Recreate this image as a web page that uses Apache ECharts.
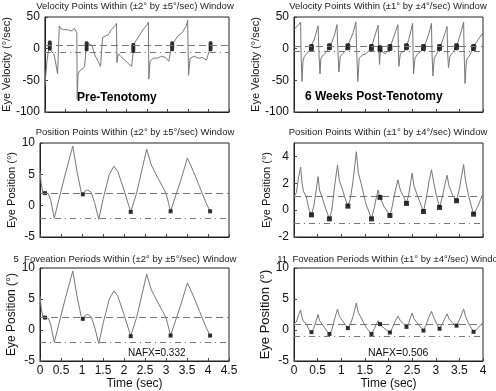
<!DOCTYPE html>
<html><head><meta charset="utf-8">
<script src="https://cdn.jsdelivr.net/npm/echarts@6/dist/echarts.min.js"></script>
<style>html,body{margin:0;padding:0;background:#fff}#c{width:496px;height:391px}</style>
</head><body><div id="c"></div>
<script>
// ---------- Pre-tenotomy (left column) ----------
const preVelT = [0.00,0.02,0.05,0.08,0.10,0.12,0.14,0.17,0.22,0.27,0.31,0.33,0.35,0.38,0.45,0.55,0.65,0.72,0.76,0.78,0.79,0.81,0.85,0.92,0.97,1.00,1.02,1.06,1.10,1.15,1.22,1.30,1.36,1.39,1.41,1.45,1.55,1.62,1.70,1.75,1.76,1.79,1.85,1.95,2.05,2.12,2.15,2.17,2.20,2.30,2.40,2.50,2.53,2.54,2.57,2.65,2.75,2.85,2.95,3.03,3.07,3.11,3.15,3.25,3.35,3.45,3.49,3.51,3.55,3.65,3.75,3.85,3.95,4.01,4.05,4.07];
const preVelV = [-58,-55,-20,-5,3,6,2,-5,-8,-25,-40,-38,36,32,30,30,28,32,30,25,-80,-40,-35,-32,-28,-5,4,8,10,5,-10,-20,-28,-30,18,20,22,30,35,40,-22,-8,-12,-18,-24,-28,-10,2,10,20,30,38,42,-48,-20,-15,-15,-12,-14,-20,-5,5,10,20,25,35,45,-42,-15,-12,-15,-14,-18,-5,5,6];
const prePosT = [0.00,0.03,0.07,0.12,0.20,0.25,0.34,0.45,0.60,0.78,0.88,0.98,1.02,1.08,1.14,1.22,1.30,1.40,1.50,1.65,1.76,1.85,2.00,2.16,2.30,2.54,2.65,2.80,2.92,3.00,3.11,3.25,3.35,3.51,3.65,3.80,3.95,4.05];
const prePosV = [5.5,3.5,2.0,2.0,1.9,1.0,-2.0,1.0,5.0,9.5,5.5,2.2,1.8,2.4,2.5,2.1,0.5,-2.2,1.0,5.0,6.3,5.5,2.5,-1.0,2.0,9.0,6.5,4.5,3.0,2.0,-0.9,2.0,4.0,7.6,5.5,3.0,0.5,-0.9];
const preFovT = [0.12,1.02,2.16,3.11,4.05];
const preFovPos = [2.0,1.8,-1.0,-0.9,-0.9];
const preFovVel = [5,4,1,4,4];
const preWindow = [2,-2];
const preVelWindow = [5,-5];

// ---------- 6 weeks post-tenotomy (right column) ----------
const postVelT = [0.00,0.04,0.10,0.14,0.15,0.17,0.19,0.22,0.27,0.32,0.35,0.38,0.43,0.48,0.51,0.53,0.55,0.57,0.62,0.68,0.73,0.75,0.80,0.86,0.91,0.93,0.95,0.98,1.03,1.09,1.12,1.18,1.25,1.31,1.33,1.35,1.38,1.45,1.52,1.58,1.62,1.67,1.73,1.78,1.80,1.81,1.83,1.87,1.93,1.98,2.03,2.08,2.14,2.20,2.21,2.22,2.25,2.32,2.38,2.43,2.48,2.51,2.52,2.53,2.56,2.62,2.69,2.74,2.80,2.86,2.91,2.92,2.94,2.97,3.02,3.08,3.14,3.20,3.24,3.25,3.27,3.30,3.36,3.44,3.50,3.55,3.59,3.60,3.62,3.65,3.72,3.80,3.86,3.93,4.00];
const postVelV = [30,32,38,42,-10,-52,-20,-12,-8,-3,2,5,15,28,36,-10,-40,-15,-10,-6,0,3,10,22,38,-5,-37,-12,-8,-3,3,12,25,42,-10,-52,-15,-10,-8,-4,2,10,25,37,-8,-25,0,-5,-8,-4,2,12,25,38,-5,-28,-8,-4,3,15,30,40,-5,-40,-15,-8,-4,2,12,25,40,-5,-43,-15,-8,2,12,25,35,-5,-30,-12,-6,3,18,30,42,-5,-55,-18,-10,2,10,18,25];
const postPosT = [0.00,0.05,0.10,0.14,0.17,0.20,0.26,0.32,0.37,0.42,0.47,0.51,0.54,0.60,0.68,0.75,0.80,0.86,0.92,0.96,1.02,1.08,1.14,1.19,1.25,1.32,1.36,1.42,1.52,1.64,1.70,1.74,1.78,1.82,1.90,2.03,2.08,2.14,2.20,2.25,2.32,2.38,2.43,2.50,2.54,2.60,2.74,2.80,2.86,2.91,2.96,3.02,3.08,3.14,3.20,3.24,3.28,3.36,3.44,3.50,3.55,3.59,3.63,3.70,3.80,3.88,3.95,4.00];
const postPosV = [1.0,1.3,2.5,3.2,2.0,1.4,1.0,0.0,-0.35,0.3,1.5,2.5,1.5,0.9,0.0,-0.65,0.0,1.8,3.35,2.2,1.6,0.9,0.3,0.8,2.2,4.35,2.8,2.0,0.5,-0.65,0.2,0.9,1.5,0.95,0.3,-0.4,0.3,1.4,2.25,1.5,1.0,0.5,1.2,2.75,1.8,1.2,-0.1,0.9,2.2,3.0,2.0,1.0,0.2,1.0,2.0,2.6,1.8,1.1,0.7,1.6,2.6,3.4,2.2,1.0,-0.3,0.2,0.8,1.2];
const postFovT = [0.37,0.75,1.14,1.64,1.82,2.03,2.38,2.74,3.08,3.44,3.80];
const postFovPos = [-0.35,-0.65,0.3,-0.65,0.95,-0.4,0.5,-0.1,0.2,0.7,-0.3];
const postFovVel = [2,3,3,2,0,2,3,2,2,3,2];
const postWindow = [1,-1];
const postVelWindow = [4,-4];

// ---------- texts ----------
const titles = [
  'Velocity Points Within (\u00b12\u00b0 by \u00b15\u00b0/sec) Window',
  'Velocity Points Within (\u00b11\u00b0 by \u00b14\u00b0/sec) Window',
  'Position Points Within (\u00b12\u00b0 by \u00b15\u00b0/sec) Window',
  'Position Points Within (\u00b11\u00b0 by \u00b14\u00b0/sec) Window',
  '5  Foveation Periods Within (\u00b12\u00b0 by \u00b15\u00b0/sec) Window',
  '11  Foveation Periods Within (\u00b11\u00b0 by \u00b14\u00b0/sec) Window'
];
const nafx = ['NAFX=0.332','NAFX=0.506'];
const xTicksLeft = [0,0.5,1,1.5,2,2.5,3,3.5,4,4.5];
const xTicksRight = [0,0.5,1,1.5,2,2.5,3,3.5,4];

const zip = (a,b)=>a.map((t,i)=>[t,b[i]]);
const FONT = 'Liberation Sans, Arial, sans-serif';
const TRACE = '#777';

const grids = [
  {left:40, top:17, width:189, height:95},
  {left:294, top:17, width:189, height:95},
  {left:40, top:143, width:189, height:94},
  {left:294, top:143, width:189, height:94},
  {left:40, top:268, width:189, height:97},
  {left:294, top:268, width:189, height:97}
].map(g=>Object.assign({show:true, borderColor:'#222', borderWidth:1, backgroundColor:'transparent'}, g));

function xAx(i, max, labels){
  return {type:'value', gridIndex:i, min:0, max:max, interval:0.5,
    axisLine:{show:true, onZero:false, lineStyle:{color:'#222'}},
    axisTick:{show:true, inside:true, length:3, lineStyle:{color:'#444'}},
    splitLine:{show:false},
    axisLabel:{show:labels, color:'#111', fontSize:12, fontFamily:FONT, margin:4,
      formatter:v=>String(v)},
    name: labels ? 'Time (sec)' : '', nameLocation:'middle', nameGap:17,
    nameTextStyle:{color:'#111', fontSize:12, fontFamily:FONT}};
}
function yAx(i, min, max, interval, name, nameSize){
  return {type:'value', gridIndex:i, min:min, max:max, interval:interval,
    axisLine:{show:true, lineStyle:{color:'#222'}},
    axisTick:{show:true, inside:true, length:3, lineStyle:{color:'#444'}},
    splitLine:{show:false},
    axisLabel:{color:'#111', fontSize:12, fontFamily:FONT, margin:5, showMaxLabel: (max % interval === 0)},
    name:name, nameLocation:'middle', nameGap: (min<=-100 ? 29 : 22),
    nameTextStyle:{color:'#111', fontSize:nameSize, fontFamily:FONT}};
}

const xAxis = [xAx(0,4.5,false), xAx(1,4,false), xAx(2,4.5,false), xAx(3,4,false), xAx(4,4.5,true), xAx(5,4,true)];
xAxis[4].axisLabel.customValues = xTicksLeft;
xAxis[5].axisLabel.customValues = xTicksRight;
const yAxis = [
  yAx(0,-100,50,50,'Eye Velocity (\u00b0/sec)',11),
  yAx(1,-100,50,50,'Eye Velocity (\u00b0/sec)',11),
  yAx(2,-5,10,5,'Eye Position (\u00b0)',11),
  yAx(3,-2,5,2,'Eye Position (\u00b0)',11),
  yAx(4,-5,10,5,'Eye Position (\u00b0)',12),
  yAx(5,-5,10,5,'Eye Position (\u00b0)',13)
];

function windowLines(vals){
  return {silent:true, symbol:'none', label:{show:false},
    data: [
      {yAxis: vals[0], lineStyle:{type:[7,4], color:'#777', width:1}},
      {yAxis: vals[1], lineStyle:{type:[6,4,1,4], color:'#777', width:1}}
    ]};
}
function trace(i, t, v, win){
  return {type:'line', xAxisIndex:i, yAxisIndex:i, data:zip(t,v), symbol:'none',
    lineStyle:{color:TRACE, width:1}, animation:false, z:3, markLine:windowLines(win)};
}
function fov(i, t, v, size, sym){
  return {type:'scatter', xAxisIndex:i, yAxisIndex:i, data:zip(t,v), symbol:sym, symbolSize:size,
    itemStyle:{color:'#000'}, animation:false, z:4};
}

const series = [
  trace(0, preVelT, preVelV, preVelWindow),
  fov(0, preFovT, preFovVel, [4,10], 'roundRect'),
  trace(1, postVelT, postVelV, postVelWindow),
  fov(1, postFovT, postFovVel, [5,7], 'roundRect'),
  trace(2, prePosT, prePosV, preWindow),
  fov(2, preFovT, preFovPos, 4, 'rect'),
  trace(3, postPosT, postPosV, postWindow),
  fov(3, postFovT, postFovPos, 5, 'rect'),
  trace(4, prePosT, prePosV, preWindow),
  fov(4, preFovT, preFovPos, 4, 'rect'),
  trace(5, postPosT, postPosV, postWindow),
  fov(5, postFovT, postFovPos, 4, 'rect')
];

const titlePos = [[135,6],[388,6],[135,132],[388,132],[125,259],[391,259]];
const graphic = titles.map((s,i)=>({type:'text', x:titlePos[i][0], y:titlePos[i][1],
  style:{text:s, fill:'#222', font:'9.5px '+FONT, textAlign:'center', textVerticalAlign:'middle'}}));
graphic.push({type:'text', x:77, y:98, style:{text:'Pre-Tenotomy', fill:'#000', font:'bold 12px '+FONT, textVerticalAlign:'middle'}});
graphic.push({type:'text', x:305, y:97, style:{text:'6 Weeks Post-Tenotomy', fill:'#000', font:'bold 12px '+FONT, textVerticalAlign:'middle'}});
graphic.push({type:'text', x:128, y:353, style:{text:nafx[0], fill:'#111', font:'10px '+FONT, textVerticalAlign:'middle'}});
graphic.push({type:'text', x:368, y:353, style:{text:nafx[1], fill:'#111', font:'10.5px '+FONT, textVerticalAlign:'middle'}});

const chart = echarts.init(document.getElementById('c'), null, {renderer:'canvas'});
chart.setOption({animation:false, backgroundColor:'#fff', grid:grids, xAxis:xAxis, yAxis:yAxis, series:series, graphic:graphic});
</script></body></html>
